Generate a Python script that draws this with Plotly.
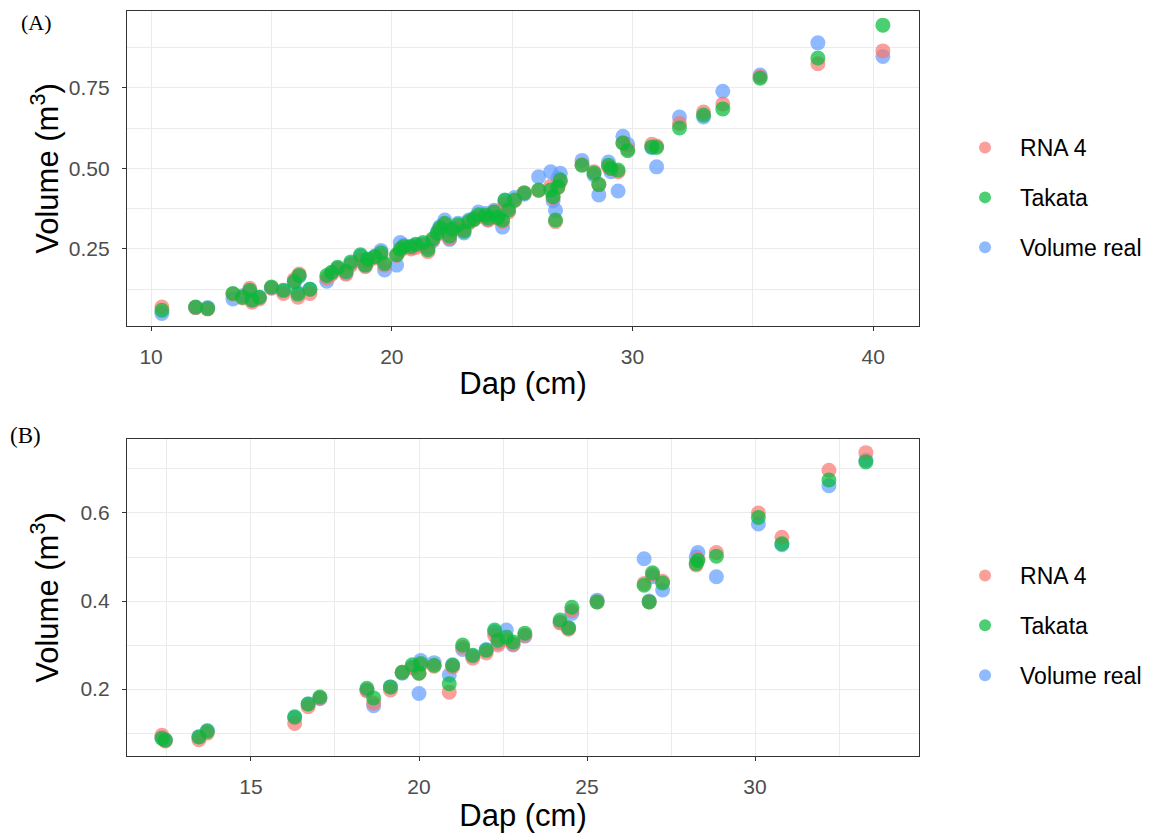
import plotly.graph_objects as go

# ---------------- Panel A data ----------------
dap_a = [10.45, 11.85, 12.35, 13.4, 13.8, 14.1, 14.2, 14.5, 15.0, 15.5, 15.95, 16.15, 16.1, 16.6,
         17.3, 17.5, 17.75, 18.1, 18.3, 18.7, 18.9, 19.0, 19.3, 19.55, 19.7, 20.2, 20.35, 20.5,
         20.8, 21.0, 21.3, 21.5, 21.7, 21.9, 22.0, 22.2, 22.4, 22.5, 22.75, 23.0, 23.2, 23.4,
         23.6, 23.9, 24.0, 24.25, 24.4, 24.6, 24.7, 24.85, 25.1, 25.5, 26.1, 26.6, 26.7, 26.8,
         26.9, 27.0, 27.9, 28.4, 28.6, 29.0, 29.1, 29.4, 29.6, 29.8, 30.8, 31.0, 31.95, 32.95,
         33.75, 35.3, 37.7, 40.4]
real_a = [0.050, 0.068, 0.068, 0.095, 0.105, 0.118, 0.090, 0.100, 0.128, 0.120, 0.150, 0.165, 0.115, 0.125,
          0.150, 0.175, 0.190, 0.175, 0.205, 0.228, 0.200, 0.215, 0.228, 0.245, 0.185, 0.200, 0.270, 0.262,
          0.255, 0.262, 0.265, 0.255, 0.275, 0.305, 0.320, 0.340, 0.280, 0.310, 0.330, 0.300, 0.340, 0.345,
          0.365, 0.360, 0.340, 0.370, 0.350, 0.318, 0.400, 0.380, 0.410, 0.420, 0.474, 0.490, 0.400, 0.370,
          0.470, 0.485, 0.525, 0.480, 0.418, 0.520, 0.490, 0.430, 0.600, 0.575, 0.565, 0.505, 0.660, 0.660,
          0.740, 0.790, 0.890, 0.848]
rna_a = [0.070, 0.068, 0.064, 0.110, 0.098, 0.128, 0.085, 0.095, 0.130, 0.112, 0.155, 0.172, 0.100, 0.112,
         0.160, 0.172, 0.188, 0.172, 0.200, 0.215, 0.195, 0.210, 0.222, 0.230, 0.200, 0.230, 0.245, 0.255,
         0.250, 0.255, 0.260, 0.242, 0.278, 0.295, 0.310, 0.325, 0.282, 0.305, 0.318, 0.310, 0.330, 0.340,
         0.350, 0.352, 0.340, 0.365, 0.345, 0.335, 0.390, 0.365, 0.400, 0.425, 0.432, 0.445, 0.410, 0.335,
         0.440, 0.460, 0.512, 0.490, 0.450, 0.505, 0.500, 0.490, 0.580, 0.560, 0.575, 0.570, 0.640, 0.675,
         0.700, 0.785, 0.825, 0.865]
tak_a = [0.060, 0.070, 0.065, 0.112, 0.100, 0.122, 0.092, 0.100, 0.132, 0.122, 0.148, 0.168, 0.110, 0.125,
         0.168, 0.178, 0.193, 0.180, 0.210, 0.232, 0.200, 0.218, 0.226, 0.238, 0.205, 0.232, 0.250, 0.258,
         0.258, 0.265, 0.270, 0.248, 0.282, 0.300, 0.315, 0.330, 0.290, 0.312, 0.325, 0.305, 0.335, 0.342,
         0.356, 0.355, 0.346, 0.365, 0.348, 0.340, 0.402, 0.371, 0.402, 0.424, 0.433, 0.433, 0.412, 0.340,
         0.443, 0.464, 0.510, 0.486, 0.450, 0.510, 0.500, 0.495, 0.579, 0.555, 0.567, 0.565, 0.626, 0.666,
         0.685, 0.780, 0.843, 0.945]

# ---------------- Panel B data ----------------
dap_b = [12.35, 12.45, 13.45, 13.7, 16.3, 16.7, 17.05, 18.45, 18.65, 19.15, 19.5, 19.8, 20.0, 20.05,
         20.45, 20.9, 21.0, 21.3, 21.6, 22.0, 22.25, 22.35, 22.6, 22.8, 23.15, 24.2, 24.45, 24.55,
         25.3, 26.7, 26.95, 26.85, 27.25, 28.25, 28.3, 28.85, 30.1, 30.8, 32.2, 33.3]
real_b = [0.090, 0.085, 0.092, 0.106, 0.135, 0.166, 0.178, 0.198, 0.162, 0.205, 0.236, 0.250, 0.190, 0.265,
          0.260, 0.232, 0.255, 0.290, 0.275, 0.290, 0.330, 0.305, 0.334, 0.300, 0.320, 0.352, 0.340, 0.372,
          0.402, 0.496, 0.455, 0.400, 0.425, 0.500, 0.510, 0.455, 0.575, 0.528, 0.662, 0.720]
rna_b = [0.095, 0.082, 0.085, 0.100, 0.122, 0.160, 0.180, 0.196, 0.168, 0.198, 0.238, 0.248, 0.236, 0.255,
         0.252, 0.193, 0.250, 0.295, 0.270, 0.282, 0.322, 0.300, 0.312, 0.302, 0.322, 0.350, 0.336, 0.378,
         0.398, 0.440, 0.460, 0.398, 0.445, 0.482, 0.495, 0.510, 0.600, 0.545, 0.697, 0.737]
tak_b = [0.088, 0.084, 0.091, 0.104, 0.137, 0.166, 0.182, 0.202, 0.180, 0.205, 0.238, 0.255, 0.236, 0.258,
         0.254, 0.212, 0.254, 0.300, 0.277, 0.288, 0.334, 0.311, 0.318, 0.307, 0.327, 0.357, 0.339, 0.386,
         0.398, 0.436, 0.464, 0.398, 0.441, 0.485, 0.492, 0.502, 0.590, 0.530, 0.675, 0.716]

series_names = ["RNA 4", "Takata", "Volume real"]
series_colors = {"RNA 4": "#F8766D", "Takata": "#00BA38", "Volume real": "#619CFF"}
draw_order = ["Volume real", "RNA 4", "Takata"]
rank = {"RNA 4": 1, "Takata": 2, "Volume real": 3}

FONT = "Liberation Sans, Arial, sans-serif"
SERIF = "Liberation Serif, Times New Roman, serif"
fig = go.Figure()

panels = [
    ("x", "y", "legend", dap_a, {"RNA 4": rna_a, "Takata": tak_a, "Volume real": real_a}),
    ("x2", "y2", "legend2", dap_b, {"RNA 4": rna_b, "Takata": tak_b, "Volume real": real_b}),
]
for xa, ya, lg, dap, vals in panels:
    for name in draw_order:
        fig.add_trace(go.Scatter(
            x=dap, y=vals[name], mode="markers", name=name,
            xaxis=xa, yaxis=ya, legend=lg, legendrank=rank[name],
            legendgroup=lg + name,
            marker=dict(size=15, color=series_colors[name], opacity=0.7, line=dict(width=0)),
        ))

grid_major = "#EBEBEB"
axis_common = dict(
    showline=True, linecolor="#333333", linewidth=1.4, mirror=True,
    ticks="outside", ticklen=4, tickcolor="#333333", tickwidth=1.2, ticklabelstandoff=8,
    showgrid=True, gridcolor=grid_major, gridwidth=1.3, zeroline=False, automargin=False,
    tickfont=dict(family=FONT, size=21, color="#4D4D4D"),
)
title_font = dict(family=FONT, size=31, color="#000000")
legend_common = dict(xanchor="left", yanchor="top", traceorder="grouped", tracegroupgap=17,
                     itemwidth=60, font=dict(family=FONT, size=23, color="#000000"),
                     bgcolor="rgba(0,0,0,0)", itemsizing="constant")

fig.update_layout(
    width=1148, height=830,
    margin=dict(l=0, r=0, t=0, b=0, autoexpand=False),
    paper_bgcolor="white", plot_bgcolor="white",
    showlegend=True,
    xaxis=dict(domain=[0.10366, 0.79355], anchor="y", range=[9.0, 41.9], tick0=10, dtick=10,
               title=dict(text="Dap (cm)", font=title_font, standoff=4),
               minor=dict(dtick=5, tick0=10, showgrid=True, gridcolor=grid_major, gridwidth=0.6, ticks=""),
               **axis_common),
    yaxis=dict(domain=[0.6169, 0.9964], anchor="x", range=[0.011, 0.989], tick0=0, dtick=0.25,
               tickformat=".2f",
               title=dict(text="Volume (m<sup>3</sup>)", font=title_font, standoff=0),
               minor=dict(dtick=0.125, tick0=0, showgrid=True, gridcolor=grid_major, gridwidth=0.6, ticks=""),
               **axis_common),
    xaxis2=dict(domain=[0.10366, 0.79355], anchor="y2", range=[11.31, 34.88], tick0=10, dtick=5,
                title=dict(text="Dap (cm)", font=title_font, standoff=4),
                minor=dict(dtick=2.5, tick0=10, showgrid=True, gridcolor=grid_major, gridwidth=0.6, ticks=""),
                **axis_common),
    yaxis2=dict(domain=[0.0988, 0.4807], anchor="x2", range=[0.048, 0.768], tick0=0, dtick=0.2,
                tickformat=".1f",
                title=dict(text="Volume (m<sup>3</sup>)", font=title_font, standoff=12),
                minor=dict(dtick=0.1, tick0=0, showgrid=True, gridcolor=grid_major, gridwidth=0.6, ticks=""),
                **axis_common),
    legend=dict(x=0.8206, y=0.8578, **legend_common),
    legend2=dict(x=0.8206, y=0.3422, **legend_common),
    annotations=[
        dict(text="(A)", x=0.0105, y=0.9831, xref="paper", yref="paper", xanchor="left", yanchor="middle",
             borderpad=0, showarrow=False, font=dict(family=SERIF, size=22, color="black")),
        dict(text="(B)", x=0.0, y=0.5024, xref="paper", yref="paper", xanchor="left", yanchor="top",
             showarrow=False, font=dict(family=SERIF, size=23, color="black")),
    ],
)

fig.write_html("out.html")
